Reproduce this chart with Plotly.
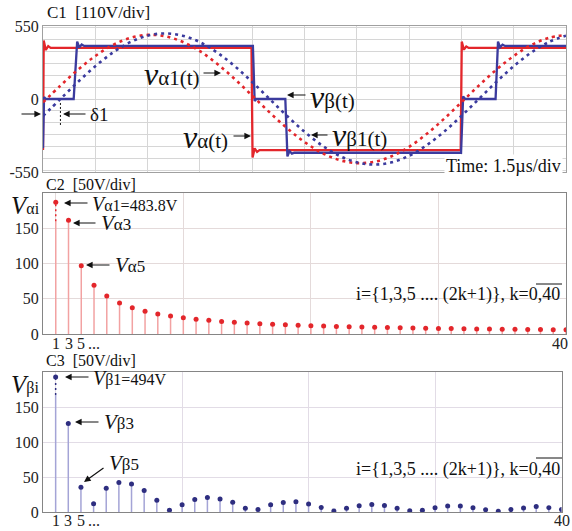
import plotly.graph_objects as go

W, H = 572, 531
SERIF = "Liberation Serif, Times New Roman, serif"
RED = "#e3262b"
BLUE = "#3b3b9e"
RED_STEM = "#f2a2a2"
BLUE_STEM = "#a4a4d6"

# ---------------- C1: time-domain traces (t in µs, v in V) ----------------
T_VA = [0.00, 0.02, 0.08, 0.15, 0.22, 5.98, 6.01, 6.07, 6.14, 6.21,
        11.98, 12.01, 12.07, 12.14, 12.21, 15.00]
V_VA = [-385, 440, 370, 398, 385, 385, -440, -372, -398, -385,
        -385, 432, 372, 396, 385, 385]

T_VB = [0.00, 0.03, 0.08, 0.88, 0.98, 1.04, 1.11, 1.18, 6.02, 6.07, 6.12,
        6.95, 7.01, 7.07, 7.14, 7.21, 11.99, 12.05, 12.11, 12.98, 13.05,
        13.11, 13.18, 13.25, 15.00]
V_VB = [-370, 15, 0, 0, 432, 388, 410, 400, 400, -15, 0,
        0, -432, -392, -412, -405, -405, 20, 0, 0, 432,
        390, 410, 400, 400]

# fundamentals sampled every 0.5 µs
T_FUND = [0.0, 0.5, 1.0, 1.5, 2.0, 2.5, 3.0, 3.5, 4.0, 4.5, 5.0, 5.5, 6.0,
          6.5, 7.0, 7.5, 8.0, 8.5, 9.0, 9.5, 10.0, 10.5, 11.0, 11.5, 12.0,
          12.5, 13.0, 13.5, 14.0, 14.5, 15.0]
V_VA1 = [-25, 101, 220, 324, 406, 460, 483, 473, 431, 360, 264, 150, 25,
         -101, -220, -324, -406, -460, -483, -473, -431, -360, -264, -150,
         -25, 101, 220, 324, 406, 460, 483]
V_VB1 = [-128, 0, 128, 247, 349, 428, 477, 494, 477, 428, 349, 247, 128,
         0, -128, -247, -349, -428, -477, -494, -477, -428, -349, -247,
         -128, 0, 128, 247, 349, 428, 477]

C1_YTICKS = [-550, -540, -450, -360, -270, -180, -90, 0,
             90, 180, 270, 360, 450, 540, 550]
C1_YTEXT = ["-550", "", "", "", "", "", "", "0",
            "", "", "", "", "", "", "550"]

# ---------------- C2 / C3: harmonic amplitudes, i = 2k+1 ----------------
K_INDEX = list(range(41))
V_ALPHA_I = [483.8, 161.3, 96.8, 69.1, 53.8, 44.0, 37.2, 32.3, 28.5, 25.5,
             23.0, 21.0, 19.4, 17.9, 16.7, 15.6, 14.7, 13.8, 13.1, 12.4,
             11.8, 11.3, 10.8, 10.3, 9.9, 9.5, 9.1, 8.8, 8.5, 8.2,
             7.9, 7.7, 7.4, 7.2, 7.0, 6.8, 6.6, 6.4, 6.3, 6.1, 6.0]
V_BETA_I = [494, 126.5, 35.3, 11.8, 34.0, 42.0, 40.0, 30.7, 16.9, 2.6,
            10.3, 17.8, 20.8, 18.6, 13.8, 5.5, 3.6, 10.5, 13.6, 14.8,
            11.6, 6.4, 1.4, 5.2, 9.0, 10.7, 9.2, 5.3, 1.8, 2.4,
            5.9, 8.6, 8.4, 5.9, 3.3, 1.2, 3.5, 5.7, 7.9, 6.2, 3.5]
SPEC_XTICKS = [1, 2, 3, 4, 41]
SPEC_XTEXT = ["1", "3", "5", "...", "40"]
SPEC_YTICKS = [0, 50, 100, 150]

# off-scale fundamentals are drawn on a broken stem
ALPHA_BREAK = (160, 187)
BETA_BREAK = (167, 193)


def px(x):
    return x / W


def py(y):
    return 1 - y / H


def stems(values, brk):
    solid_x, solid_y, dash_x, dash_y, mk_y = [], [], [], [], []
    for k, v in zip(K_INDEX, values):
        pos = k + 1
        if v > brk[1]:
            solid_x += [pos, pos, None]
            solid_y += [0, brk[0], None]
            dash_x += [pos, pos, None]
            dash_y += [brk[0], brk[1], None]
            mk_y.append(brk[1])
        else:
            solid_x += [pos, pos, None]
            solid_y += [0, v, None]
            mk_y.append(v)
    return solid_x, solid_y, dash_x, dash_y, mk_y


fig = go.Figure()

# C1 traces
fig.add_trace(go.Scatter(x=T_VA, y=V_VA, mode="lines",
                         line=dict(color=RED, width=2.3), xaxis="x", yaxis="y"))
fig.add_trace(go.Scatter(x=T_VB, y=V_VB, mode="lines",
                         line=dict(color=BLUE, width=2.3), xaxis="x", yaxis="y"))
fig.add_trace(go.Scatter(x=T_FUND, y=V_VA1, mode="lines",
                         line=dict(color=RED, width=2.6, dash="3px,4px", shape="spline"),
                         xaxis="x", yaxis="y"))
fig.add_trace(go.Scatter(x=T_FUND, y=V_VB1, mode="lines",
                         line=dict(color=BLUE, width=2.6, dash="3px,4px", shape="spline"),
                         xaxis="x", yaxis="y"))

# spectra
for vals, brk, stem_c, mk_c, xa, ya in [
    (V_ALPHA_I, ALPHA_BREAK, RED_STEM, RED, "x2", "y2"),
    (V_BETA_I, BETA_BREAK, BLUE_STEM, "#2e2e80", "x3", "y3"),
]:
    sx, sy, dx, dy, my = stems(vals, brk)
    fig.add_trace(go.Scatter(x=sx, y=sy, mode="lines",
                             line=dict(color=stem_c, width=1.5), xaxis=xa, yaxis=ya))
    fig.add_trace(go.Scatter(x=dx, y=dy, mode="lines",
                             line=dict(color=mk_c, width=1.5, dash="2px,3px"),
                             xaxis=xa, yaxis=ya))
    fig.add_trace(go.Scatter(x=[k + 1 for k in K_INDEX], y=my, mode="markers",
                             marker=dict(color=mk_c, size=5, symbol="circle"),
                             xaxis=xa, yaxis=ya))

frame = dict(showline=True, mirror=True, linewidth=1, zeroline=False, ticks="",
             ticklen=0, automargin=False,
             tickfont=dict(family=SERIF, size=16, color="#222"))

fig.update_layout(
    width=W, height=H, margin=dict(l=0, r=0, t=0, b=0, pad=0), autosize=False,
    paper_bgcolor="white", plot_bgcolor="white", showlegend=False,
    font=dict(family=SERIF, color="#222"),
    xaxis=dict(domain=[px(43), px(566)], range=[0, 15], anchor="y",
               tick0=0, dtick=1.5, showticklabels=False, showgrid=True,
               gridcolor="#d6d6d6", linecolor="#a0a0a0", **frame),
    yaxis=dict(domain=[py(172), py(26)], range=[-550, 550], anchor="x",
               tickmode="array", tickvals=C1_YTICKS, ticktext=C1_YTEXT,
               showgrid=True, gridcolor="#d6d6d6", linecolor="#a0a0a0", **frame),
    xaxis2=dict(domain=[px(43), px(566)], range=[0, 41], anchor="y2",
                tickmode="array", tickvals=SPEC_XTICKS, showticklabels=False,
                showgrid=False, linecolor="#858585",
                minor=dict(tick0=1, dtick=10, showgrid=True, gridcolor="#e4dada"),
                **frame),
    yaxis2=dict(domain=[py(334), py(193)], range=[0, 200], anchor="x2",
                tickmode="array", tickvals=SPEC_YTICKS, showgrid=True,
                gridcolor="#e4dada", linecolor="#858585", **frame),
    xaxis3=dict(domain=[px(43), px(561.5)], range=[0, 41], anchor="y3",
                tickmode="array", tickvals=SPEC_XTICKS, showticklabels=False,
                showgrid=False, linecolor="#858585",
                minor=dict(tick0=1, dtick=10, showgrid=True, gridcolor="#e2dce6"),
                **frame),
    yaxis3=dict(domain=[py(512), py(372)], range=[0, 200], anchor="x3",
                tickmode="array", tickvals=SPEC_YTICKS, showgrid=True,
                gridcolor="#e2dce6", linecolor="#858585", **frame),
)


def big(ch, size):
    return f"<i><span style='font-size:{size}px'>{ch}</span></i>"


def label(text, x, cy, size=17, anchor="left", **kw):
    fig.add_annotation(text=text, x=px(x), y=py(cy), xref="paper", yref="paper",
                       xanchor=anchor, yanchor="middle", showarrow=False,
                       font=dict(family=SERIF, size=size, color="#111"), **kw)


def arrow(tail, head):
    fig.add_annotation(text="", x=px(head[0]), y=py(head[1]), xref="paper",
                       yref="paper", ax=tail[0] - head[0], ay=tail[1] - head[1],
                       showarrow=True, arrowhead=2, arrowsize=1.1, arrowwidth=1.2,
                       arrowcolor="#111", standoff=0, startstandoff=0)


# harmonic-order labels under the spectra, placed on the axes' own x scale
for xa, cy, last_shift in [("x2", 343, -6), ("x3", 520, 0)]:
    for tv, tt in zip(SPEC_XTICKS, SPEC_XTEXT):
        fig.add_annotation(text=tt, x=tv, y=py(cy), xref=xa, yref="paper",
                           xanchor="center", yanchor="middle", showarrow=False,
                           xshift=last_shift if tt == SPEC_XTEXT[-1] else 0,
                           font=dict(family=SERIF, size=16, color="#222"))

# C1 labels
label("C1\u00a0\u00a0[110V/div]", 45, 12, size=17)
label(big("v", 32) + "α1(t)", 142, 74, size=21)
arrow((202, 73), (221, 73))
label(big("v", 32) + "α(t)", 181, 137, size=21)
arrow((232, 136), (251, 136))
label(big("v", 32) + "β(t)", 308, 97, size=21)
arrow((307, 95), (287, 95))
label(big("v", 32) + "β1(t)", 330, 135, size=21)
arrow((329, 135), (311, 135))
label("δ1", 88, 114, size=19)
arrow((20, 114), (41, 114))
arrow((87, 114), (63, 114))
fig.add_shape(type="line", xref="x", yref="y", x0=0.5, x1=0.5, y0=-30, y1=-196,
              line=dict(color="#111", width=1, dash="2px,2px"))
label("Time: 1.5µs/div", 563, 166, size=18, anchor="right", bgcolor="white")

# C2 labels
label("C2\u00a0\u00a0[50V/div]", 44, 184, size=16)
label(big("V", 25) + "αi", 9, 205, size=16)
label(big("V", 20) + f"α1={V_ALPHA_I[0]}V", 90, 204, size=16)
arrow((89, 203), (64, 203))
label(big("V", 21) + "α3", 99, 223, size=17)
arrow((97, 223), (73, 223))
label(big("V", 21) + "α5", 113, 265, size=17)
arrow((111, 265), (86, 265))
label("i={1,3,5 .... (2k+1)}, k=0,40", 562, 294, size=18, anchor="right")
fig.add_shape(type="line", xref="paper", yref="paper", x0=px(536), x1=px(562),
              y0=py(284), y1=py(284), line=dict(color="#111", width=1))

# C3 labels
label("C3\u00a0\u00a0[50V/div]", 44, 360, size=16)
label(big("V", 25) + "βi", 9, 384, size=16)
label(big("V", 20) + f"β1={V_BETA_I[0]}V", 91, 378, size=16)
arrow((90, 377), (65, 377))
label(big("V", 21) + "β3", 102, 422, size=17)
arrow((100, 422), (75, 422))
label(big("V", 21) + "β5", 107, 463, size=17)
arrow((105, 467), (84, 482))
label("i={1,3,5 .... (2k+1)}, k=0,40", 562, 469, size=18, anchor="right")
fig.add_shape(type="line", xref="paper", yref="paper", x0=px(536), x1=px(562),
              y0=py(458), y1=py(458), line=dict(color="#111", width=1))

fig.write_html("out.html")
